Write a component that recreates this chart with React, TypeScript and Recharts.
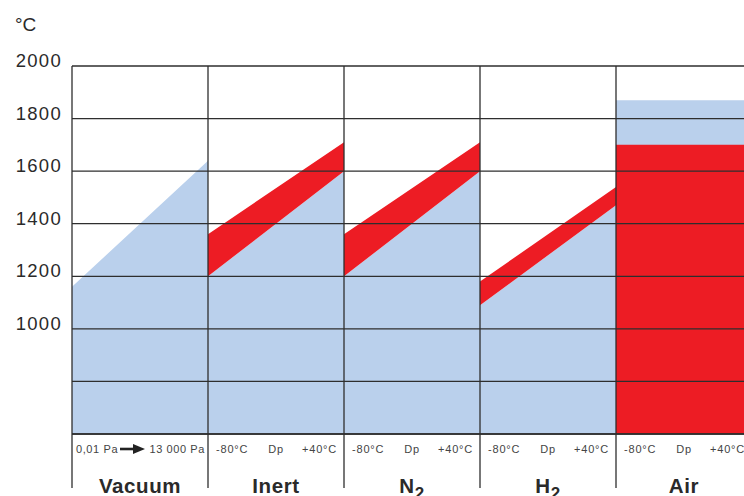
import { ComposedChart, Area, XAxis, YAxis, ReferenceLine } from 'recharts'

// panels along the x axis (one unit each)
const panelNames = ['Vacuum', 'Inert', 'N', 'H', 'Air']
const panelSubs = ['', '', '2', '2', '']
const vacuumRange = ['0,01 Pa', '13 000 Pa']
const dewPointLabels = ['-80°C', 'Dp', '+40°C']

// blue area: top edge at the left and right of each panel (°C)
const blueStart = [1160, 1200, 1200, 1090, 1870]
const blueEnd = [1640, 1600, 1600, 1470, 1870]

// red band: low / high edge at the left and right of each panel (°C)
const redLowStart = [null, 1200, 1200, 1090, 600]
const redLowEnd = [null, 1600, 1600, 1470, 600]
const redHighStart = [null, 1360, 1360, 1180, 1700]
const redHighEnd = [null, 1710, 1710, 1540, 1700]

const yTicks = [600, 800, 1000, 1200, 1400, 1600, 1800, 2000]
const yLabelMin = 1000

const BLUE = '#bad0ec'
const RED = '#ed1c24'
const LINE = '#2e2e2e'
const TEXT = '#2a2a2a'
const FONT = '"Liberation Sans", Arial, Helvetica, sans-serif'
const PANEL_PX = 136

const data = panelNames.flatMap((_, i) => [
  {
    x: i,
    blue: blueStart[i],
    red: redLowStart[i] == null ? null : [redLowStart[i], redHighStart[i]],
  },
  {
    x: i + 1,
    blue: blueEnd[i],
    red: redLowEnd[i] == null ? null : [redLowEnd[i], redHighEnd[i]],
  },
])

const xTicks = panelNames.flatMap((_, i) => [i, i + 0.5]).concat([panelNames.length])

const YTick = ({ x, y, payload }: any) => {
  if (payload.value < yLabelMin) return null
  return (
    <text x={x - 10} y={y + 1} textAnchor="end" fontSize={18.5} letterSpacing={1.3} fill={TEXT} fontFamily={FONT}>
      {payload.value}
    </text>
  )
}

const XTick = ({ x, y, payload }: any) => {
  const v = payload.value
  if (Number.isInteger(v)) {
    return <line x1={x} x2={x} y1={y} y2={y + 54} stroke={LINE} strokeWidth={1.3} />
  }
  const i = Math.floor(v)
  const half = PANEL_PX / 2
  const subY = y + 19
  return (
    <g fontFamily={FONT} fill="#444">
      {i === 0 ? (
        <>
          <text x={x - half + 4} y={subY} fontSize={11} letterSpacing={0.6}>{vacuumRange[0]}</text>
          <line x1={x - 20} x2={x - 5} y1={subY - 4} y2={subY - 4} stroke="#222" strokeWidth={2.6} />
          <polygon points={`${x - 7},${subY - 9} ${x + 5},${subY - 4} ${x - 7},${subY + 1}`} fill="#222" />
          <text x={x + half - 3} y={subY} fontSize={11} letterSpacing={0.6} textAnchor="end">{vacuumRange[1]}</text>
        </>
      ) : (
        <>
          <text x={x - 60} y={subY} fontSize={11} letterSpacing={0.8}>{dewPointLabels[0]}</text>
          <text x={x} y={subY} fontSize={11} letterSpacing={0.8} textAnchor="middle">{dewPointLabels[1]}</text>
          <text x={x + 61} y={subY} fontSize={11} letterSpacing={0.8} textAnchor="end">{dewPointLabels[2]}</text>
        </>
      )}
      <text x={x} y={y + 59} fontSize={20.5} fontWeight="bold" letterSpacing={0.6} fill={TEXT} textAnchor="middle">
        {panelNames[i]}
        {panelSubs[i] && <tspan dy={6} fontSize={17}>{panelSubs[i]}</tspan>}
      </text>
    </g>
  )
}

export default function App() {
  return (
    <div style={{ position: 'absolute', left: 0, top: 0, width: 744, height: 496, overflow: 'hidden', background: '#fff' }}>
      <div style={{ position: 'absolute', left: 15, top: 14, fontFamily: FONT, fontSize: 19, color: TEXT }}>°C</div>
      <ComposedChart width={752} height={540} data={data} margin={{ top: 66, right: 0, left: 0, bottom: 0 }}>
        <XAxis
          dataKey="x"
          type="number"
          domain={[0, 5]}
          ticks={xTicks}
          interval={0}
          height={106}
          tickSize={0}
          tickMargin={0}
          tickLine={false}
          axisLine={{ stroke: LINE, strokeWidth: 1.3 }}
          tick={<XTick />}
        />
        <YAxis
          type="number"
          domain={[600, 2000]}
          ticks={yTicks}
          interval={0}
          width={72}
          tickSize={0}
          tickMargin={0}
          tickLine={false}
          axisLine={{ stroke: LINE, strokeWidth: 1.3 }}
          tick={<YTick />}
        />
        <Area dataKey="blue" type="linear" stroke="none" fill={BLUE} fillOpacity={1} baseValue={600} isAnimationActive={false} />
        <Area dataKey="red" type="linear" stroke="none" fill={RED} fillOpacity={1} connectNulls={false} isAnimationActive={false} />
        {yTicks.map((t) => (
          <ReferenceLine key={'y' + t} y={t} stroke={LINE} strokeWidth={1.3} />
        ))}
        {[1, 2, 3, 4].map((t) => (
          <ReferenceLine key={'x' + t} x={t} stroke={LINE} strokeWidth={1.3} />
        ))}
      </ComposedChart>
    </div>
  )
}
